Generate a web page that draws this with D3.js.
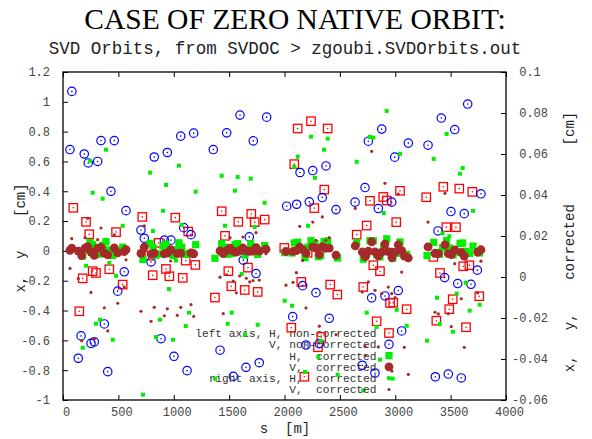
<!DOCTYPE html>
<html>
<head>
<meta charset="utf-8">
<script src="https://cdn.jsdelivr.net/npm/d3@7/dist/d3.min.js"></script>
<style>
  body { margin: 0; background: #fff; }
  svg text { white-space: pre; }
</style>
</head>
<body>
<div id="chart"></div>
<script>
// tick values
const xTicks = [0, 500, 1000, 1500, 2000, 2500, 3000, 3500, 4000];
const leftTicks = [-1, -0.8, -0.6, -0.4, -0.2, 0, 0.2, 0.4, 0.6, 0.8, 1, 1.2];
const rightTicks = [-0.06, -0.04, -0.02, 0, 0.02, 0.04, 0.06, 0.08, 0.1];

// [s (m), orbit (cm)]
const hNonCorrected = [
  [93, 0.289], [208, 0.195], [237, 0.112], [479, 0.126], [268, -0.136], [298, -0.148], [178, -0.184],
  [418, -0.123], [539, -0.226], [147, -0.405],
  [716, 0.228], [1014, 0.223], [1131, 0.13], [779, -0.032], [810, -0.163], [930, -0.121], [960, -0.17],
  [1081, -0.181], [1108, -0.065], [1195, -0.094], [864, 0.054],
  [2239, 0.87], [2119, 0.821], [2390, 0.821], [2088, 0.582], [2359, 0.411], [2269, 0.287], [1433, 0.266],
  [1700, 0.248], [1583, 0.195], [1731, 0.193], [1821, 0.21], [1463, 0.101], [1998, 0.02], [2209, -0.013],
  [1670, -0.112], [1493, -0.136], [1520, -0.237], [1641, -0.262], [1758, -0.275], [1372, -0.313],
  [2152, -0.208], [2413, -0.226], [2477, -0.293], [2061, -0.515], [2302, -0.646], [2332, -0.577], [2179, -0.844],
  [3043, 0.403], [2892, 0.362], [2923, 0.338], [2772, 0.336], [3280, 0.36], [3434, 0.43], [3578, 0.418],
  [3696, 0.396], [3009, 0.193], [2742, 0.17], [2652, 0.109], [3461, 0.159], [3548, 0.159], [3344, -0.04],
  [2802, -0.096], [2862, -0.136], [3614, -0.103], [3669, -0.096], [3404, -0.148], [2711, -0.242],
  [2953, -0.349], [2982, -0.347], [3103, -0.391], [3519, -0.324], [3488, -0.391], [3759, -0.304],
  [2832, -0.472], [3371, -0.468], [3639, -0.512],
];

const vNonCorrected = [
  [80, 1.07], [63, 0.68], [192, 0.65], [228, 0.59], [313, 0.6], [343, 0.74], [463, 0.74], [433, 0.4],
  [569, 0.27], [553, -0.14], [494, -0.27], [373, -0.49], [163, -0.57], [253, -0.62], [283, -0.61],
  [138, -0.72], [404, -0.81],
  [824, 0.63], [942, 0.66], [1063, 0.77], [1180, 0.79], [704, 0.14], [734, 0.085], [795, -0.074],
  [915, 0.072], [975, 0.072], [1090, 0.156], [1156, 0.109], [885, -0.589], [1002, -0.707], [1120, -0.803],
  [1598, 0.911], [1839, 0.897], [1478, 0.792], [1718, 0.738], [1357, 0.68], [2020, 0.3], [2110, 0.313],
  [2140, 0.526], [2255, 0.539], [2375, 0.57], [2224, 0.329], [2341, 0.358], [2465, 0.277], [1682, 0.094],
  [1628, -0.062], [1743, -0.152], [2164, -0.233], [2284, -0.28], [2074, -0.441], [2404, -0.452],
  [1418, -0.666], [1652, -0.781], [1772, -0.75], [1538, -0.841], [2194, -0.631], [2314, -0.622],
  [3654, 0.985], [3416, 0.891], [2878, 0.817], [3537, 0.814], [2757, 0.736], [3118, 0.723], [3296, 0.709],
  [2995, 0.629], [2727, 0.425], [2637, 0.327], [2968, 0.327], [2847, 0.284], [3774, 0.383], [3503, 0.264],
  [3623, 0.25], [3386, 0.134], [3446, -0.179], [3564, -0.219], [3684, -0.224], [3741, -0.129],
  [3027, -0.266], [2787, -0.315], [2907, -0.302], [3058, -0.537], [2702, -0.767], [2817, -0.819],
  [3362, -0.844], [3479, -0.826], [3596, -0.852],
];

const hCorrected = [
  [388, 0.0621], [244, 0.0566], [268, 0.0411], [358, 0.0382], [539, 0.025], [208, 0.0055], [418, 0.0068],
  [479, 0.0006], [334, -0.0208], [298, -0.0228], [449, -0.0306], [178, -0.0345],
  [786, 0.0509], [1047, 0.0543], [930, 0.0449], [1198, 0.0416], [903, 0.0323], [1072, 0.0254],
  [813, 0.0224], [1020, 0.008], [957, -0.0059], [1138, -0.0174], [876, -0.0208], [1108, -0.0239],
  [840, -0.0293], [993, -0.0306], [722, -0.0574],
  [2239, 0.0684], [2390, 0.0675], [2357, 0.0621], [2119, 0.0587], [2088, 0.0537], [2275, 0.0484],
  [1433, 0.0494], [1577, 0.0488], [1695, 0.048], [1553, 0.0421], [1821, 0.0362], [1463, 0.025],
  [1731, 0.0244], [2212, 0.025], [1614, 0.0015], [2002, -0.0116], [2068, -0.014], [1523, -0.0174],
  [1487, -0.0228], [1758, -0.0233], [1643, -0.0281], [2327, -0.0311], [2305, -0.039], [2185, -0.0463],
  [2480, -0.0477], [1372, -0.0496],
  [2923, 0.081], [2772, 0.0683], [2802, 0.068], [3464, 0.0698], [2652, 0.0562], [3043, 0.0601],
  [3347, 0.0576], [3609, 0.0532], [3585, 0.0504], [2896, 0.0312], [3702, 0.0323], [3428, 0.0213],
  [3488, 0.0199], [3636, -0.0028], [3555, -0.0081], [3377, -0.0101], [3762, -0.0135], [3672, -0.0164],
  [3013, -0.016], [2742, -0.0174], [3103, -0.0238], [2832, -0.0244], [3401, -0.0229], [3521, -0.0267],
  [3287, -0.0311], [2862, -0.0403], [2977, -0.0496], [2711, -0.0553],
];

const vCorrected = [
  [79, 0.0187], [223, 0.0286], [343, 0.0239], [199, 0.0192], [313, 0.0182], [463, 0.0206], [63, 0.0042],
  [138, -0.0008], [569, 0.0084], [253, -0.0075], [553, -0.0049], [494, -0.0128], [373, -0.015],
  [404, -0.0263], [283, -0.0301], [169, -0.0311],
  [734, 0.0249], [704, -0.0167], [795, -0.0216], [824, -0.0148], [942, -0.0155], [915, -0.0189],
  [1032, -0.0187], [1063, -0.0148], [1156, -0.0135], [1180, -0.0192], [972, 0.0078],
  [2341, 0.0293], [2255, 0.0268], [2137, 0.0247], [2404, 0.0192], [2372, 0.0179], [2284, 0.0179],
  [1743, 0.0216], [1625, 0.0195], [1508, 0.0192], [1833, 0.0114], [2164, 0.0081], [2107, 0.0021],
  [2013, -0.004], [2077, -0.0026], [1418, -0.0001], [1478, 0.0011], [1538, -0.002], [1595, 0.0005],
  [1655, -0.0006], [1686, -0.0024], [1716, -0.0018], [1772, -0.0015], [1565, -0.0077], [2194, -0.0151],
  [1447, -0.0179], [2314, -0.024], [2465, -0.0281],
  [2787, 0.0613], [2907, 0.0457], [3027, 0.0405], [3449, 0.0408], [2639, 0.0335], [3296, 0.0268],
  [3058, 0.0024], [3537, 0.0065], [3774, 0.0077], [2757, -0.0024], [2702, -0.0073], [2817, -0.0065],
  [2878, -0.0081], [2937, -0.0049], [2968, -0.0081], [2998, -0.0101], [3596, -0.0106], [3744, -0.0077],
  [3359, -0.0172], [3389, -0.018], [3479, -0.0179], [3506, -0.0242], [2727, -0.0338], [2847, -0.0341],
  [3082, -0.0343], [3623, -0.0343], [3118, -0.0475], [2970, -0.0459], [2730, -0.0382],
];

const keyTitles = [
  'left axis, H, non-corrected',
  'V, non-corrected',
  'H,  corrected',
  'V,  corrected',
  'right axis, H,  corrected',
  'V,  corrected',
];

const width = 592;
const height = 439;
const plot = { left: 63, right: 506, top: 72, bottom: 400 };

const RED = '#ff0000';
const BLUE = '#0000ff';
const GREEN = '#00ee00';
const BROWN = '#a52a2a';
const MONO = '"Liberation Mono", "DejaVu Sans Mono", monospace';

const svg = d3.select('#chart').append('svg')
  .attr('width', width)
  .attr('height', height);

const xScale = d3.scaleLinear().domain([0, 4000]).range([plot.left, plot.right]);
const yLeft = d3.scaleLinear().domain([-1, 1.2]).range([plot.bottom, plot.top]);
const yRight = d3.scaleLinear().domain([-0.06, 0.1]).range([plot.bottom, plot.top]);

// titles
svg.append('text')
  .attr('x', 295).attr('y', 29)
  .attr('text-anchor', 'middle')
  .style('font-family', '"Liberation Serif", "Times New Roman", serif')
  .style('font-size', '29.5px')
  .text('CASE OF ZERO NATIVE ORBIT:');

svg.append('text')
  .attr('x', 285).attr('y', 54)
  .attr('text-anchor', 'middle')
  .style('font-family', MONO)
  .style('font-size', '17.5px')
  .style('fill', '#222')
  .text('SVD Orbits, from SVDOC > zgoubi.SVDOrbits.out');

// axes (ticks point inwards, gnuplot style)
const fmt = d => String(d);

const xAxis = svg.append('g')
  .attr('transform', `translate(0,${plot.bottom})`)
  .call(d3.axisBottom(xScale).tickValues(xTicks).tickSize(-5).tickPadding(7).tickFormat(fmt));
xAxis.selectAll('text').attr('dx', 3);

svg.append('g')
  .attr('transform', `translate(0,${plot.top})`)
  .call(d3.axisTop(xScale).tickValues(xTicks).tickSize(-5).tickFormat(''));

svg.append('g')
  .attr('transform', `translate(${plot.left},0)`)
  .call(d3.axisLeft(yLeft).tickValues(leftTicks).tickSize(-5).tickPadding(13).tickFormat(fmt));

svg.append('g')
  .attr('transform', `translate(${plot.right},0)`)
  .call(d3.axisRight(yRight).tickValues(rightTicks).tickSize(-5).tickPadding(6)
    .tickFormat(d => (d < 0 ? String(d) : ` ${d}`)));

svg.selectAll('.domain').remove();
svg.selectAll('.tick line').attr('stroke', '#000').attr('stroke-width', 1);
svg.selectAll('.tick text')
  .style('font-family', MONO)
  .style('font-size', '12px')
  .style('fill', '#444');

// frame
svg.append('rect')
  .attr('x', plot.left).attr('y', plot.top)
  .attr('width', plot.right - plot.left)
  .attr('height', plot.bottom - plot.top)
  .attr('fill', 'none')
  .attr('stroke', '#000')
  .attr('stroke-width', 1.3);

// axis labels
svg.append('text')
  .attr('x', 285).attr('y', 433)
  .attr('text-anchor', 'middle')
  .style('font-family', MONO).style('font-size', '14px').style('fill', '#222')
  .text('s  [m]');

svg.append('text')
  .attr('transform', 'translate(25,238) rotate(-90)')
  .attr('text-anchor', 'middle')
  .style('font-family', MONO).style('font-size', '14px').style('fill', '#222')
  .text('x,  y    [cm]');

svg.append('text')
  .attr('transform', 'translate(574,242) rotate(-90)')
  .attr('text-anchor', 'middle')
  .style('font-family', MONO).style('font-size', '14px').style('fill', '#222')
  .text('x,   y,    corrected       [cm]');

// marker drawers
function openSquare(g, cx, cy) {
  g.append('rect')
    .attr('x', cx - 4.2).attr('y', cy - 4.2).attr('width', 8.4).attr('height', 8.4)
    .attr('fill', 'none').attr('stroke', RED).attr('stroke-width', 1.3);
  g.append('circle').attr('cx', cx).attr('cy', cy).attr('r', 0.8).attr('fill', RED);
}
function openCircle(g, cx, cy) {
  g.append('circle')
    .attr('cx', cx).attr('cy', cy).attr('r', 4.2)
    .attr('fill', 'none').attr('stroke', BLUE).attr('stroke-width', 1.2);
  g.append('circle').attr('cx', cx).attr('cy', cy).attr('r', 0.8).attr('fill', BLUE);
}
function bigSquare(g, cx, cy) {
  g.append('rect').attr('x', cx - 3.6).attr('y', cy - 3.6).attr('width', 7.2).attr('height', 7.2)
    .attr('fill', GREEN);
}
function bigDot(g, cx, cy) {
  g.append('circle').attr('cx', cx).attr('cy', cy).attr('r', 4.4).attr('fill', BROWN);
}
function smallSquare(g, cx, cy) {
  g.append('rect').attr('x', cx - 2).attr('y', cy - 2).attr('width', 4).attr('height', 4)
    .attr('fill', GREEN);
}
function smallDot(g, cx, cy) {
  g.append('circle').attr('cx', cx).attr('cy', cy).attr('r', 1.6).attr('fill', BROWN);
}

const series = [
  { data: hNonCorrected, y: yLeft, draw: openSquare },
  { data: vNonCorrected, y: yLeft, draw: openCircle },
  { data: hCorrected, y: yLeft, draw: bigSquare },
  { data: vCorrected, y: yLeft, draw: bigDot },
  { data: hCorrected, y: yRight, draw: smallSquare },
  { data: vCorrected, y: yRight, draw: smallDot },
];

// key: right-aligned titles with the sample to their right
const keyTextX = 376.5;
const keySampleX = 389;
const keyY0 = 333;
const keyStep = 11.3;

series.forEach((s, i) => {
  const g = svg.append('g').attr('class', `series-${i}`);
  const ky = keyY0 + i * keyStep;
  g.append('text')
    .attr('x', keyTextX).attr('y', ky)
    .attr('dy', '0.35em')
    .attr('text-anchor', 'end')
    .style('font-family', MONO).style('font-size', '11.2px').style('fill', '#333')
    .text(keyTitles[i]);
  s.draw(g, keySampleX, ky);
  s.data.forEach(d => s.draw(g, xScale(d[0]), s.y(d[1])));
});
</script>
</body>
</html>
